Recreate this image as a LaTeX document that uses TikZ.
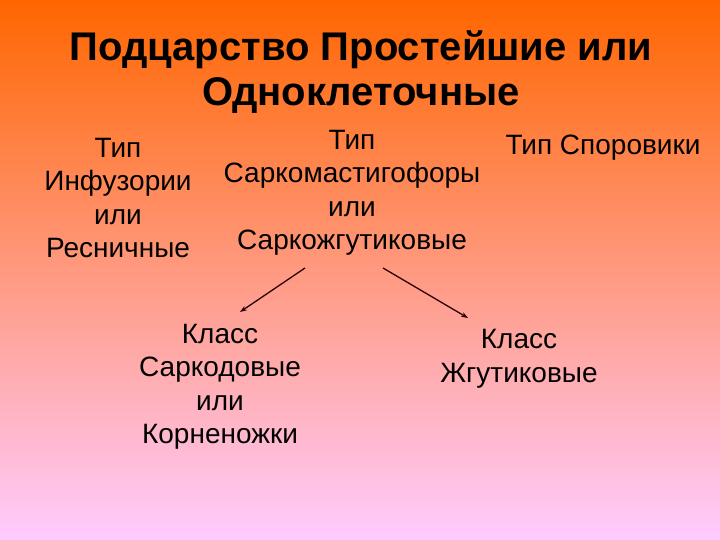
\documentclass[tikz,border=0pt]{standalone}
\usepackage{fontspec}
\setmainfont{Liberation Sans}
\usetikzlibrary{
    positioning,
    arrows.meta
    }
\definecolor{slidetop}{HTML}{FF6600}
\definecolor{slidemid}{HTML}{FF9EB8}
\definecolor{slidebottom}{HTML}{FFCCFF}
\definecolor{arrowdark}{HTML}{2A0006}

\begin{document}
\begin{tikzpicture}[x=1bp, y=-1bp]
\tikzset{heading/.style =
        {
            align=center,
            inner sep=0pt,
            font=\fontsize{40bp}{45bp}\selectfont\bfseries
        }
}

\tikzset{taxon/.style =
        {
            align=center,
            inner sep=0pt,
            font=\fontsize{28bp}{33.5bp}\selectfont
        }
}

\tikzset{branch/.style = {
            line width=1.3pt,
            arrowdark,
            -{Stealth[length=7pt, width=5pt]}
        }
}
		% background
		\shade[top color=slidetop, middle color=slidemid, bottom color=slidebottom] (0,0) rectangle (720,540);
		\useasboundingbox (0,0) rectangle (720,540);

		\node[heading] (title) at (361,72) {Подцарство Простейшие или\\Одноклеточные};

		\node[taxon] (infuz) at (118,198) {Тип\\Инфузории\\или\\Ресничные};
		\node[taxon] (sarkomast) at (352,193) {Тип\\Саркомастигофоры\\или\\Саркожгутиковые};
		\node[taxon] (sporo) at (603,148) {Тип Споровики};

		\node[taxon] (sarkod) at (220,387) {Класс\\Саркодовые\\или\\Корненожки};
		\node[taxon] (zhgut) at (519,359) {Класс\\Жгутиковые};

		\coordinate (fork left) at (305,268);
		\coordinate (fork right) at (383,268);
		\coordinate (sarkod top) at (240,312);
		\coordinate (zhgut top) at (468,318);

		\draw[branch] (fork left) -- (sarkod top);
		\draw[branch] (fork right) -- (zhgut top);

	\end{tikzpicture}
\end{document}
